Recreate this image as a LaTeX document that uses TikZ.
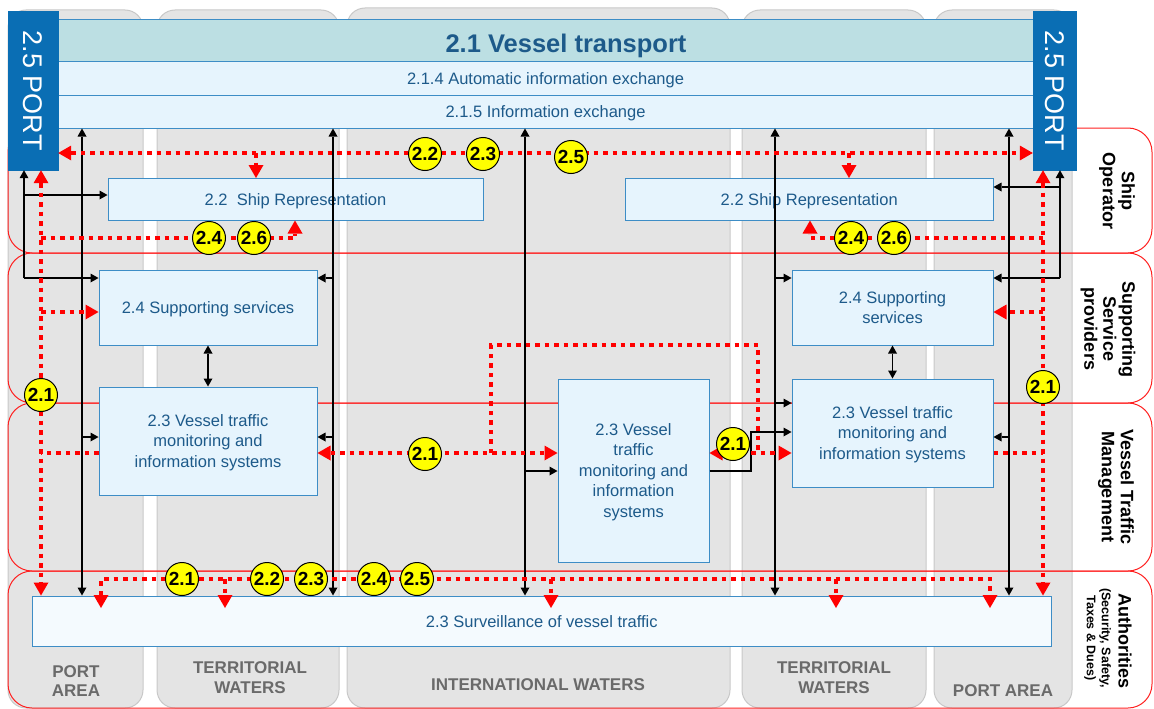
\documentclass[tikz,border=0pt]{standalone}
\usepackage{fontspec}
\setmainfont{Liberation Sans}
\usetikzlibrary{arrows.meta}
\definecolor{colfill}{HTML}{E4E4E4}
\definecolor{coledge}{HTML}{C8C8C8}
\definecolor{lanered}{HTML}{FF2020}
\definecolor{boxfill}{HTML}{E6F4FD}
\definecolor{boxedge}{HTML}{3D8DC6}
\definecolor{boxtext}{HTML}{1D5A8A}
\definecolor{titlefill}{HTML}{BCDFE3}
\definecolor{portblue}{HTML}{0A6EB4}
\definecolor{survfill}{HTML}{F4FAFE}
\definecolor{zonetext}{HTML}{6A6A6A}
\definecolor{flowred}{HTML}{FF0000}
\definecolor{badgefill}{HTML}{FFFF00}

\tikzset{
  column/.style={fill=colfill,draw=coledge,line width=1pt,rounded corners=18pt},
  lane/.style={draw=lanered,line width=1pt,rounded corners=24pt},
  zone/.style={text=zonetext,font=\fontsize{17}{19.5}\selectfont\bfseries,align=center,inner sep=0pt},
  fbox/.style={draw=boxedge,fill=boxfill,line width=1pt,text=boxtext,
    font=\fontsize{16.5}{20.5}\selectfont,align=center,inner sep=0pt,text depth=0pt},
  oneline/.style={text height=12pt},
  titlebox/.style={fbox,fill=titlefill,font=\fontsize{25.5}{28}\selectfont\bfseries,
    text height=24pt},
  portbox/.style={fill=portblue,draw=portblue,text=white,inner sep=0pt,
    font=\fontsize{27}{30}\selectfont},
  lanelabel/.style={rotate=-90,align=center,font=\fontsize{18}{19}\selectfont\bfseries,inner sep=0pt},
  bk/.tip={Triangle[length=8pt,width=9pt,line width=0pt]},
  rd/.tip={Triangle[length=13pt,width=15pt,line width=0pt]},
  blk/.style={draw=black,line width=1.2pt,-bk},
  blkboth/.style={draw=black,line width=1.2pt,bk-bk},
  flow/.style={draw=flowred,line width=4pt,dash pattern=on 4.5pt off 5pt},
  badge/.style={circle,fill=badgefill,draw=black,line width=1pt,minimum size=33pt,
    inner sep=0pt,font=\fontsize{19}{20}\selectfont\bfseries}
}

\begin{document}
\begin{tikzpicture}[x=1pt,y=-1pt]
\useasboundingbox (0,0) rectangle (1154,709);

% zone columns
\draw[column] (8,10) rectangle (143,708);
\draw[column] (157,10) rectangle (339,708);
\draw[column] (347,8) rectangle (730,708);
\draw[column] (742,10) rectangle (926,708);
\draw[column] (934,10) rectangle (1072,708);

\node[zone] (zPL) at (76,681) {PORT\\AREA};
\node[zone] (zTL) at (250,677.5) {TERRITORIAL\\WATERS};
\node[zone] (zIW) at (538,685) {INTERNATIONAL WATERS};
\node[zone] (zTR) at (834,677.5) {TERRITORIAL\\WATERS};
\node[zone] (zPR) at (1003,691) {PORT AREA};

% actor lanes
\draw[lane] (8,128) rectangle (1152,253);
\draw[lane] (8,253) rectangle (1152,403);
\draw[lane] (8,403) rectangle (1152,571);
\draw[lane] (8,571) rectangle (1152,708);

% top band and ports
\node[titlebox,minimum width=975pt,minimum height=42pt] (vt) at (545.5,41) {\hspace*{41pt}2.1 Vessel transport};
\node[fbox,oneline,minimum width=975pt,minimum height=33pt] (aie) at (545.5,78.5) {2.1.4 Automatic information exchange};
\node[fbox,oneline,minimum width=975pt,minimum height=33pt] (ie) at (545.5,111.5) {2.1.5 Information exchange};
\node[portbox,minimum width=50pt,minimum height=158.5pt] (portL) at (33,90.75) {\rotatebox{-90}{2.5 PORT}};
\node[portbox,minimum width=43pt,minimum height=158.5pt] (portR) at (1054.5,90.75) {\rotatebox{-90}{2.5 PORT}};

% function boxes
\node[fbox,oneline,minimum width=375pt,minimum height=41.5pt] (srL) at (295.5,199.25) {2.2~\ Ship Representation};
\node[fbox,oneline,minimum width=367.5pt,minimum height=41.5pt] (srR) at (809.25,199.25) {2.2 Ship Representation};
\node[fbox,oneline,minimum width=218pt,minimum height=74.5pt] (ssL) at (208,307.75) {2.4 Supporting services};
\node[fbox,minimum width=201pt,minimum height=74.5pt] (ssR) at (892.5,307.75) {2.4 Supporting\\services};
\node[fbox,minimum width=218pt,minimum height=108pt] (vtmL) at (208,441) {2.3 Vessel traffic\\monitoring and\\information systems};
\node[fbox,minimum width=151pt,minimum height=183pt] (vtmC) at (633.5,470.5) {2.3 Vessel\\traffic\\monitoring and\\information\\systems};
\node[fbox,minimum width=201pt,minimum height=108pt] (vtmR) at (892.5,433) {2.3 Vessel traffic\\monitoring and\\information systems};
\node[fbox,oneline,fill=survfill,minimum width=1018.5pt,minimum height=50pt] (surv) at (541.75,621) {2.3 Surveillance of vessel traffic};

% bus positions
\coordinate (xA) at (24,0);
\coordinate (xB) at (82,0);
\coordinate (xC) at (333,0);
\coordinate (xD) at (525,0);
\coordinate (xE) at (775,0);
\coordinate (xF) at (1009,0);
\coordinate (xG) at (1060,0);
\coordinate (xH) at (751,0);
\coordinate (ySRl) at (0,195);
\coordinate (ySRr) at (0,187);
\coordinate (ySS) at (0,278);
\coordinate (yVL) at (0,437);
\coordinate (yVC) at (0,471);
\coordinate (yLane) at (0,403);
\coordinate (yElb) at (0,432);

% information links
\draw[blk] (xA |- ySS) -- (xA |- portL.south);
\draw[blk] (xA |- ySS) -- (ssL.west |- ySS);
\draw[blk] (xA |- ySRl) -- (srL.west |- ySRl);
\draw[blkboth] (xB |- ie.south) -- (xB |- surv.north);
\draw[blk] (xB |- yVL) -- (vtmL.west |- yVL);
\draw[blkboth] (xC |- ie.south) -- (xC |- surv.north);
\draw[blk] (xC |- ySS) -- (ssL.east |- ySS);
\draw[blk] (xC |- yVL) -- (vtmL.east |- yVL);
\draw[blkboth] (xD |- ie.south) -- (xD |- surv.north);
\draw[blk] (xD |- yVC) -- (vtmC.west |- yVC);
\draw[blkboth] (xE |- ie.south) -- (xE |- surv.north);
\draw[blk] (xE |- ySS) -- (ssR.west |- ySS);
\draw[blk] (xE |- yLane) -- (vtmR.west |- yLane);
\draw[blk] (vtmC.east |- yVC) -| (xH |- yElb) -- (vtmR.west |- yElb);
\draw[blkboth] (xF |- ie.south) -- (xF |- surv.north);
\draw[blk] (xF |- yVL) -- (vtmR.east |- yVL);
\draw[blk] (xG |- ySS) -- (xG |- portR.south);
\draw[blk] (xG |- ySS) -- (ssR.east |- ySS);
\draw[blk] (xG |- ySRr) -- (srR.east |- ySRr);
\draw[blkboth] (ssL.south) -- (vtmL.north);
\draw[blkboth] (ssR.south) -- (vtmR.north);

% process flow positions
\coordinate (rA) at (41,0);
\coordinate (rB) at (256,0);
\coordinate (rC) at (295,0);
\coordinate (rD) at (491,0);
\coordinate (rE) at (758,0);
\coordinate (rF) at (810,0);
\coordinate (rG) at (849,0);
\coordinate (rH) at (1043,0);
\coordinate (dA) at (101,0);
\coordinate (dB) at (225,0);
\coordinate (dC) at (551,0);
\coordinate (dD) at (836,0);
\coordinate (dE) at (990,0);
\coordinate (yTop) at (0,153);
\coordinate (yRep) at (0,238);
\coordinate (ySup) at (0,312);
\coordinate (yMid) at (0,453);
\coordinate (yLoop) at (0,345);
\coordinate (yBus) at (0,579);
\coordinate (yDrop) at (0,608);

% process flows
\draw[flow,rd-rd] (portL.east |- yTop) -- (portR.west |- yTop);
\draw[flow,-rd] (rB |- yTop) -- (rB |- srL.north);
\draw[flow,-rd] (rG |- yTop) -- (rG |- srR.north);
\draw[flow,rd-rd] (rA |- portL.south) -- (rA |- surv.north);
\draw[flow,-rd] (rA |- yRep) -| (rC |- srL.south);
\draw[flow,-rd] (rA |- ySup) -- (ssL.west |- ySup);
\draw[flow] (vtmL.west |- yMid) -- (rA |- yMid);
\draw[flow,rd-rd] (vtmL.east |- yMid) -- (vtmC.west |- yMid);
\draw[flow] (rD |- yMid) |- (rE |- yLoop) -- (rE |- yMid);
\draw[flow,rd-rd] (vtmC.east |- yMid) -- (vtmR.west |- yMid);
\draw[flow,rd-rd] (rH |- portR.south) -- (rH |- surv.north);
\draw[flow,-rd] (rH |- yRep) -| (rF |- srR.south);
\draw[flow,-rd] (rH |- ySup) -- (ssR.east |- ySup);
\draw[flow] (vtmR.east |- yMid) -- (rH |- yMid);
\draw[flow,rd-rd] (dA |- yDrop) |- (dE |- yBus) -- (dE |- yDrop);
\draw[flow,-rd] (dB |- yBus) -- (dB |- yDrop);
\draw[flow,-rd] (dC |- yBus) -- (dC |- yDrop);
\draw[flow,-rd] (dD |- yBus) -- (dD |- yDrop);

% step badges
\node[badge] (t22) at (425,154) {2.2};
\node[badge] (t23) at (483,154) {2.3};
\node[badge] (t25) at (571,157) {2.5};
\node[badge] (l24) at (209,238) {2.4};
\node[badge] (l26) at (254,238) {2.6};
\node[badge] (r24) at (851,238) {2.4};
\node[badge] (r26) at (894,238) {2.6};
\node[badge] (l21) at (41,395) {2.1};
\node[badge] (r21) at (1043,387) {2.1};
\node[badge] (m21) at (425,454) {2.1};
\node[badge] (n21) at (733,444) {2.1};
\node[badge] (b21) at (182,579) {2.1};
\node[badge] (b22) at (267,579) {2.2};
\node[badge] (b23) at (311,579) {2.3};
\node[badge] (b24) at (374,579) {2.4};
\node[badge] (b25) at (417,579) {2.5};

% lane titles
\node[lanelabel] (lbShip) at (1117,191) {Ship\\Operator};
\node[lanelabel] (lbSup) at (1108,329) {Supporting\\Service\\providers};
\node[lanelabel] (lbVtm) at (1116,487) {Vessel Traffic\\Management};
\node[lanelabel] (lbAuth) at (1125,641) {Authorities};
\node[lanelabel,font=\fontsize{12.5}{15}\selectfont\bfseries] (lbAuthSub) at (1097.5,638) {(Security, Safety,\\Taxes \& Dues)};
\end{tikzpicture}
\end{document}
